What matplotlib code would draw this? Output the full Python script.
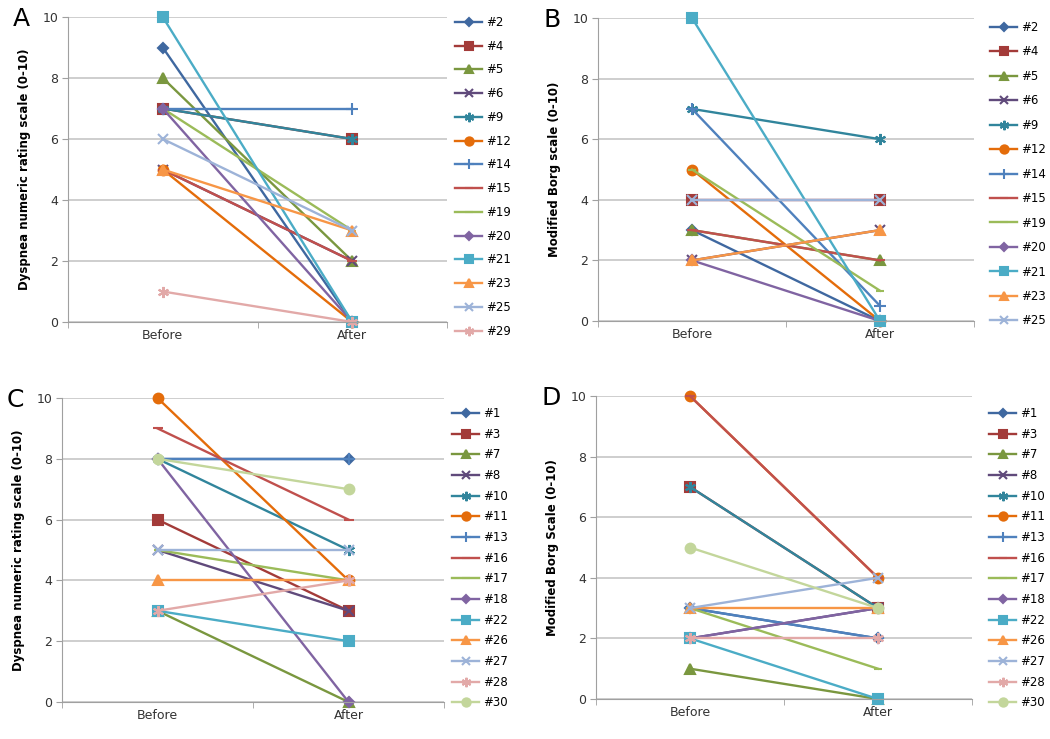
import matplotlib
matplotlib.use("Agg")
import matplotlib.pyplot as plt

# ---- data ---------------------------------------------------------
cats = ["Before", "After"]

# panels A and B: patients
ids_ab = ["#2", "#4", "#5", "#6", "#9", "#12", "#14", "#15", "#19",
          "#20", "#21", "#23", "#25", "#29"]
a_before = [9, 7, 8, 5, 7, 5, 7, 5, 7, 7, 10, 5, 6, 1]
a_after = [0, 6, 2, 2, 6, 0, 7, 2, 3, 0, 0, 3, 3, 0]

b_ids = ids_ab[:13]
b_before = [3, 4, 3, 2, 7, 5, 7, 3, 5, 2, 10, 2, 4]
b_after = [0, 4, 2, 3, 6, 0, 0.5, 2, 1, 0, 0, 3, 4]

# panels C and D
ids_cd = ["#1", "#3", "#7", "#8", "#10", "#11", "#13", "#16", "#17",
          "#18", "#22", "#26", "#27", "#28", "#30"]
c_before = [8, 6, 3, 5, 8, 10, 8, 9, 5, 8, 3, 4, 5, 3, 8]
c_after = [8, 3, 0, 3, 5, 4, 8, 6, 4, 0, 2, 4, 5, 4, 7]

d_before = [3, 7, 1, 2, 7, 10, 3, 10, 3, 2, 2, 3, 3, 2, 5]
d_after = [2, 3, 0, 3, 3, 4, 2, 4, 1, 3, 0, 3, 4, 2, 3]

# excel-like series styles (by position in the series list)
colors = ["#3f68a0", "#a33b39", "#7a973f", "#604a7b", "#31859c", "#e46c0a",
          "#4f81bd", "#c0504d", "#9bbb59", "#8064a2", "#4bacc6", "#f79646",
          "#9db3d8", "#e2a9a8", "#c3d69b"]
star = (6, 2, 0)
markers = ["D", "s", "^", "x", star, "o", "+", "_", "_", "D", "s", "^",
           "x", star, "o"]
msizes = [5, 7, 7, 7, 8, 7, 8, 7, 6, 5, 7, 7, 7, 8, 7]

W, H = 1050, 739


def px_axes(fig, left, right, top, bottom):
    return fig.add_axes([left / W, 1 - bottom / H, (right - left) / W,
                         (bottom - top) / H])


def panel(fig, box, letter, ylabel, ids, before, after, leg_xy, spacing):
    ax = px_axes(fig, *box)
    for i, name in enumerate(ids):
        ax.plot([0, 1], [before[i], after[i]], color=colors[i], lw=1.7,
                marker=markers[i], markersize=msizes[i], mew=1.5,
                label=name, clip_on=False)
    ax.set_xlim(-0.5, 1.5)
    ax.set_ylim(0, 10)
    ax.set_yticks(range(0, 11, 2))
    ax.set_xticks([0, 1])
    ax.set_xticklabels(cats)
    ax.set_xticks([-0.5, 0.5, 1.5], minor=True)
    ax.tick_params(axis="x", which="major", length=0, pad=5, labelsize=9,
                   colors="#333333")
    ax.tick_params(axis="x", which="minor", length=4, color="#a0a0a0",
                   direction="out")
    ax.tick_params(axis="y", length=4, color="#a0a0a0", labelsize=9,
                   colors="#333333", pad=3)
    ax.grid(axis="y", color="#c6c6c6", lw=1.2)
    ax.set_axisbelow(True)
    for s in ["top", "right"]:
        ax.spines[s].set_visible(False)
    ax.spines["left"].set_color("#a0a0a0")
    ax.spines["bottom"].set_color("#a0a0a0")
    ax.set_ylabel(ylabel, fontsize=8.5, fontweight="bold", labelpad=8)
    fig.text((box[0] - 55) / W, 1 - (box[2] + 2) / H, letter, fontsize=18,
             va="center", ha="left")
    ax.legend(loc="upper left", bbox_to_anchor=(leg_xy[0] / W,
                                                  1 - leg_xy[1] / H),
              bbox_transform=fig.transFigure, frameon=False, fontsize=8.5,
              handlelength=2.3, handletextpad=0.3, borderpad=0,
              borderaxespad=0, labelspacing=spacing, markerscale=0.85)
    return ax


fig = plt.figure(figsize=(W / 100, H / 100), dpi=100)

panel(fig, (68, 447, 17, 322), "A", "Dyspnea numeric rating scale (0-10)",
      ids_ab, a_before, a_after, (455, 16), 0.91)
panel(fig, (598, 974, 18, 321), "B", "Modified Borg scale (0-10)",
      b_ids, b_before, b_after, (990, 21), 0.97)
panel(fig, (62, 444, 398, 702), "C", "Dyspnea numeric rating scale (0-10)",
      ids_cd, c_before, c_after, (452, 407), 0.65)
panel(fig, (596, 972, 396, 699), "D", "Modified Borg Scale (0-10)",
      ids_cd, d_before, d_after, (989, 407), 0.65)

fig.savefig("out.png", dpi=100)
